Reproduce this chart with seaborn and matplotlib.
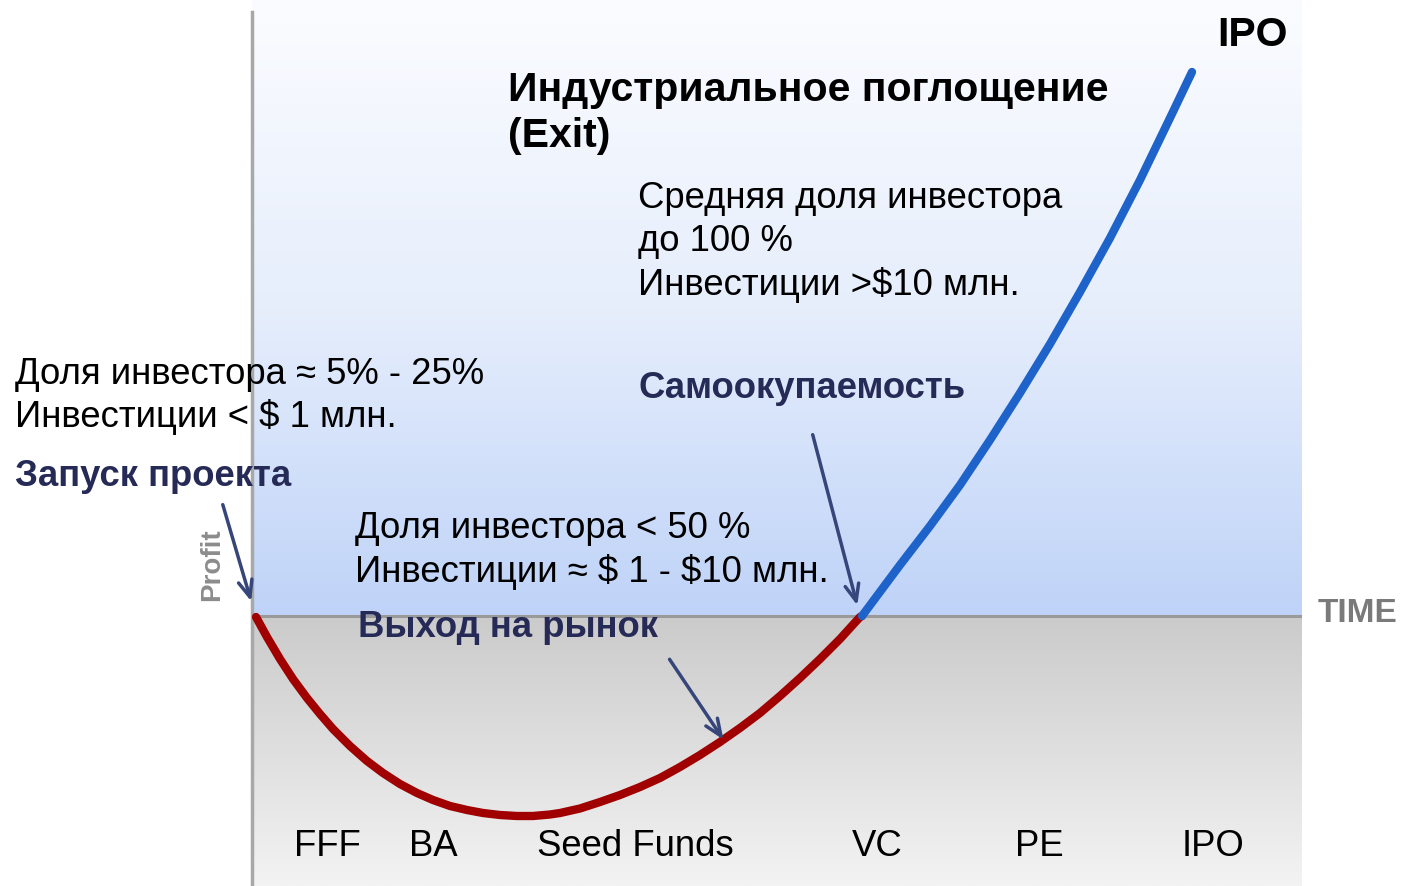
import numpy as np
import pandas as pd
import matplotlib
matplotlib.use("Agg")
import matplotlib.pyplot as plt
from matplotlib.colors import LinearSegmentedColormap
import seaborn as sns

# ---- data (x = time, y = profit, arbitrary units) ----
loss_x = [4, 15, 28, 41, 55, 68, 81, 98, 115, 131, 148, 165, 181, 198, 215, 231, 248, 265,
          281, 298, 308, 328, 348, 368, 388, 408, 428, 448, 468, 488, 508, 528, 548, 568,
          588, 608, 610]
loss_y = [-1, -21, -43, -63, -82, -98, -113, -130, -145, -157, -168, -177, -184, -190, -194,
          -197, -199, -200, -200, -198.5, -197, -192.5, -186, -179, -171, -162, -151, -139, -126,
          -112, -97, -80, -62, -43, -23, -1, 0]
gain_x = [610, 648, 678, 708, 738, 768, 798, 828, 858, 888, 918, 940]
gain_y = [0, 51, 90, 131, 176, 223, 272, 324, 378, 436, 498, 544]
stages = ["FFF", "BA", "Seed Funds", "VC", "PE", "IPO"]
stage_x = [75, 181, 383, 625, 787, 961]

W, H = 1405, 886
sns.set_style("white")
plt.rcParams['font.family'] = ['Liberation Sans', 'DejaVu Sans']

fig = plt.figure(figsize=(W / 100, H / 100), dpi=100)
x0, x1 = 252, 1302
ax = fig.add_axes([x0 / W, 0, (x1 - x0) / W, 1])
Y_TOP, Y_BOT = 616, 616 - H

# gradients
blue = LinearSegmentedColormap.from_list("b", ["#fbfcff", "#e6eefc", "#bfd3f8"])
grey = LinearSegmentedColormap.from_list("g", ["#cbcbcb", "#f3f3f3"])
grad = np.linspace(0, 1, 256).reshape(-1, 1)
ax.imshow(grad, cmap=blue, extent=[0, x1 - x0, 0, Y_TOP], aspect="auto", origin="upper", zorder=0)
ax.imshow(grad, cmap=grey, extent=[0, x1 - x0, Y_BOT, 0], aspect="auto", origin="upper", zorder=0)

ax.axhline(0, color="#9a9a9a", lw=2.2, zorder=1)
for s in ["top", "right", "bottom"]:
    ax.spines[s].set_visible(False)
ax.spines["left"].set_color("#a8a8a8")
ax.spines["left"].set_linewidth(2.5)
ax.spines["left"].set_bounds(Y_BOT, Y_TOP - 12)

df_loss = pd.DataFrame({"t": loss_x, "p": loss_y})
df_gain = pd.DataFrame({"t": gain_x, "p": gain_y})
sns.lineplot(data=df_loss, x="t", y="p", ax=ax, color="#a00000", lw=6, sort=False,
             solid_capstyle="round", solid_joinstyle="round", zorder=3)
sns.lineplot(data=df_gain, x="t", y="p", ax=ax, color="#1e63c9", lw=6, sort=False,
             solid_capstyle="round", solid_joinstyle="round", zorder=3)
ax.set_xlabel("")
ax.set_ylabel("")
ax.set_xticks([])
ax.set_yticks([])
ax.set_xlim(0, x1 - x0)
ax.set_ylim(Y_BOT, Y_TOP)


def px(xp, yp):
    return xp - x0, 616 - yp


def ftext(xp, yp, s, **kw):
    fig.text(xp / W, 1 - yp / H, s, va="baseline", **kw)


NAVY = "#262a56"
REG = 26.3
BOLD = 29.5
NB = 26.3

ftext(1288, 46, "IPO", ha="right", fontsize=BOLD, fontweight="bold", color="black")
ftext(508, 101, "Индустриальное поглощение", fontsize=BOLD, fontweight="bold", color="black")
ftext(508, 147, "(Exit)", fontsize=BOLD, fontweight="bold", color="black")

ftext(638, 208, "Средняя доля инвестора", fontsize=REG, color="black")
ftext(638, 251, "до 100 %", fontsize=REG, color="black")
ftext(638, 295, r"Инвестиции >\$10 млн.", fontsize=REG, color="black")

ftext(15, 384, "Доля инвестора ≈ 5% - 25%", fontsize=REG, color="black")
ftext(15, 427, r"Инвестиции < \$ 1 млн.", fontsize=REG, color="black")
ftext(15, 486, "Запуск проекта", fontsize=NB, fontweight="bold", color=NAVY)

ftext(638, 398, "Самоокупаемость", fontsize=NB, fontweight="bold", color=NAVY)

ftext(355, 538, "Доля инвестора < 50 %", fontsize=REG, color="black")
ftext(355, 582, r"Инвестиции ≈ \$ 1 - \$10 млн.", fontsize=REG, color="black")
ftext(358, 637, "Выход на рынок", fontsize=NB, fontweight="bold", color=NAVY)

ftext(1318, 622, "TIME", fontsize=24, fontweight="bold", color="#7a7a7a")
fig.text(212 / W, 1 - 565 / H, "Profit", rotation=90, ha="center", va="center",
         fontsize=20, fontweight="bold", color="#8c8c8c")

for name, sx in zip(stages, stage_x):
    ftext(sx + x0, 856, name, ha="center", fontsize=REG, color="black")

arrow_kw = dict(arrowstyle="->,head_length=1.2,head_width=0.5", color="#37467a", lw=2.5)
for (sx, sy), (ex, ey) in [((222, 502), (252, 604)),
                           ((812, 432), (858, 608)),
                           ((668, 657), (725, 742))]:
    ax.annotate("", xy=px(ex, ey), xytext=px(sx, sy), xycoords="data",
                arrowprops=arrow_kw, annotation_clip=False, zorder=4)

fig.savefig("out.png", dpi=100)
